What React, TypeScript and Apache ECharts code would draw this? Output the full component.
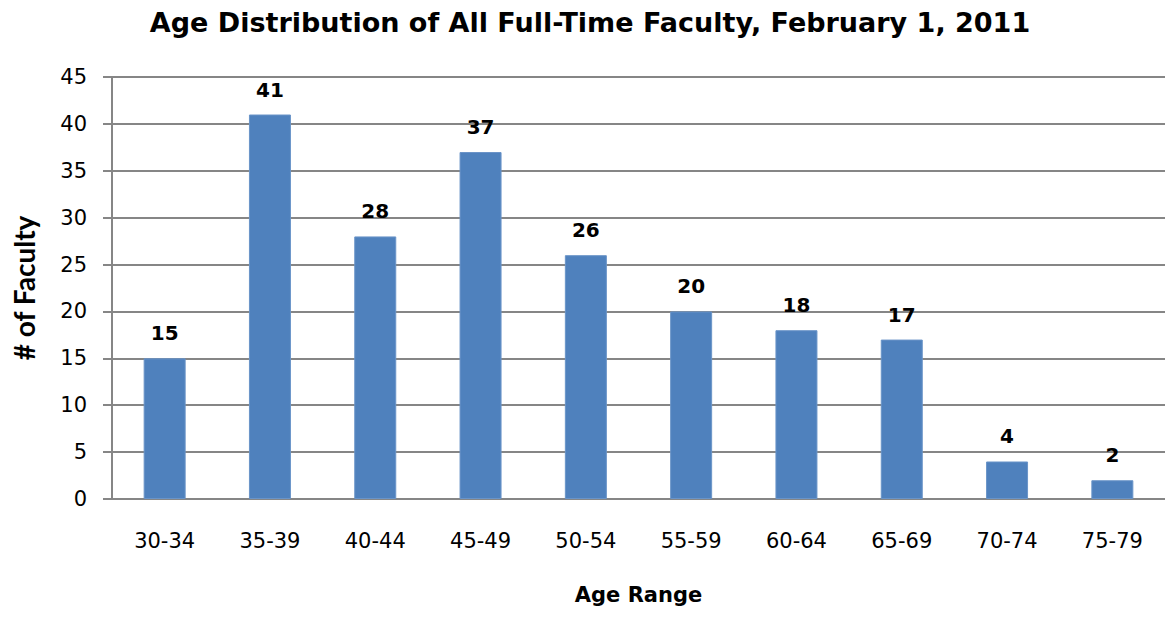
import React, { useEffect, useRef } from "react";
import * as echarts from "echarts";

const categories = ["30-34", "35-39", "40-44", "45-49", "50-54", "55-59", "60-64", "65-69", "70-74", "75-79"];
const faculty = [15, 41, 28, 37, 26, 20, 18, 17, 4, 2];
const yTicks = { min: 0, max: 45, interval: 5 };

const WIDE = "'DejaVu Sans', 'Open Sans', sans-serif";
const NARROW = "Lato, 'Open Sans', sans-serif";

export default function App() {
  const ref = useRef<HTMLDivElement>(null);
  useEffect(() => {
    if (!ref.current) return;
    const chart = echarts.init(ref.current, null, { renderer: "svg" });
    chart.setOption({
      animation: false,
      backgroundColor: "#ffffff",
      title: {
        text: "Age Distribution of All Full-Time Faculty, February 1, 2011",
        left: 585,
        textAlign: "center",
        top: 4,
        textStyle: { fontFamily: WIDE, fontSize: 27, fontWeight: "bold", color: "#000" },
      },
      grid: { left: 112, top: 77, width: 1060, height: 422, containLabel: false },
      xAxis: {
        type: "category",
        data: categories,
        name: "Age Range",
        nameLocation: "middle",
        nameGap: 85,
        nameTextStyle: { fontFamily: WIDE, fontSize: 21, fontWeight: "bold", color: "#000" },
        axisLine: { lineStyle: { color: "#868686", width: 2 } },
        axisTick: { show: false },
        axisLabel: { fontFamily: WIDE, fontSize: 21, color: "#000", margin: 31 },
      },
      yAxis: {
        type: "value",
        min: yTicks.min,
        max: yTicks.max,
        interval: yTicks.interval,
        name: "# of Faculty",
        nameLocation: "middle",
        nameGap: 74,
        nameTextStyle: { fontFamily: NARROW, fontSize: 28, fontWeight: "bold", color: "#000" },
        axisLine: { show: true, lineStyle: { color: "#868686", width: 2 } },
        axisTick: { show: true, length: 9, lineStyle: { color: "#868686", width: 2 } },
        splitLine: { lineStyle: { color: "#868686", width: 2 } },
        axisLabel: { fontFamily: WIDE, fontSize: 21, color: "#000", margin: 25 },
      },
      series: [
        {
          type: "bar",
          data: faculty,
          barWidth: 42,
          itemStyle: { color: "#4F81BD", borderColor: "#6A94C8", borderWidth: 1 },
          label: {
            show: true,
            position: "top",
            distance: 15,
            fontFamily: WIDE,
            fontSize: 20,
            fontWeight: "bold",
            color: "#000",
          },
        },
      ],
    });
    return () => chart.dispose();
  }, []);
  return <div ref={ref} style={{ width: 1165, height: 617, position: "absolute", left: 0, top: 0 }} />;
}
